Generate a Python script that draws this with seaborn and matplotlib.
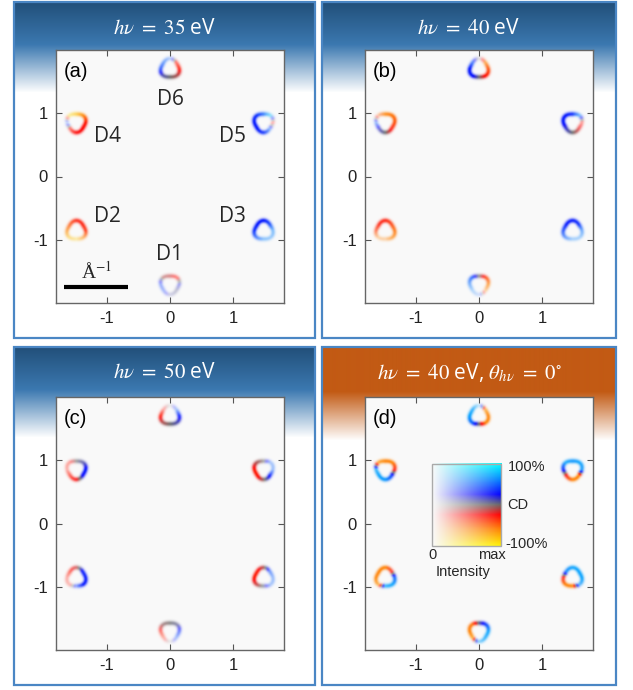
import numpy as np
import matplotlib
matplotlib.use("Agg")
import matplotlib.pyplot as plt
from matplotlib.colors import LinearSegmentedColormap, to_rgb
from matplotlib.patches import Rectangle
import seaborn as sns

sns.set_theme(style="ticks")
plt.rcParams["font.family"] = ["Liberation Sans", "DejaVu Sans"]
plt.rcParams["mathtext.fontset"] = "stix"
plt.rcParams["axes.unicode_minus"] = False

# pockets D1..D6 sit on a hexagon around Gamma
pocket_names = ["D1", "D2", "D3", "D4", "D5", "D6"]
pocket_angle = [270, 210, 330, 150, 30, 90]
# angles (deg) around each pocket where CD / intensity were read
ring_angles = [0, 45, 90, 135, 180, 225, 270, 315]

# hv = 35 eV
cd_a = [[0.2, -0.3, -0.15, -0.1, 0.4, 0.4, 0.1, 0.05],
        [-0.35, -0.3, -0.3, -0.45, -0.6, -0.8, -0.85, -0.6],
        [0.6, 0.4, 0.3, 0.3, 0.35, 0.45, 0.6, 0.6],
        [-0.3, -0.6, -0.8, -0.9, 0.5, -0.3, -0.25, -0.25],
        [-0.3, 0.8, 0.5, 0.35, 0.3, 0.3, 0.35, 0.5],
        [-0.3, -0.3, 0.5, 0.5, 0.4, 0.1, 0.0, -0.1]]
int_a = [[0.35, 0.45, 0.5, 0.45, 0.35, 0.3, 0.2, 0.3],
         [0.8, 0.85, 0.8, 0.7, 0.6, 0.4, 0.3, 0.5],
         [0.45, 0.8, 0.95, 0.95, 0.9, 0.6, 0.4, 0.35],
         [0.95, 0.85, 0.6, 0.35, 0.2, 0.5, 0.85, 0.95],
         [0.25, 0.4, 0.7, 0.9, 0.95, 0.95, 0.8, 0.4],
         [0.8, 0.5, 0.25, 0.5, 0.7, 0.8, 0.9, 0.85]]

# hv = 40 eV
cd_b = [[-0.6, -0.4, 0.0, 0.45, 0.55, 0.6, 0.5, -0.6],
        [-0.55, -0.4, -0.3, -0.3, -0.4, -0.6, -0.6, -0.6],
        [0.55, 0.35, 0.3, 0.3, 0.4, 0.5, 0.6, 0.6],
        [-0.45, -0.55, -0.6, -0.5, 0.5, 0.15, 0.0, -0.3],
        [-0.3, 0.6, 0.35, 0.3, 0.3, 0.15, 0.0, -0.2],
        [-0.45, -0.6, 0.0, 0.45, 0.3, 0.3, 0.0, -0.3]]
int_b = [[0.6, 0.75, 0.6, 0.7, 0.45, 0.25, 0.15, 0.3],
         [0.8, 0.8, 0.85, 0.8, 0.6, 0.3, 0.3, 0.6],
         [0.5, 0.85, 0.9, 0.9, 0.75, 0.5, 0.3, 0.3],
         [0.9, 0.9, 0.8, 0.3, 0.35, 0.6, 0.85, 0.8],
         [0.35, 0.5, 0.85, 0.95, 0.95, 0.85, 0.85, 0.6],
         [0.85, 0.6, 0.15, 0.6, 0.95, 0.95, 0.9, 0.95]]

# hv = 50 eV
cd_c = [[0.35, 0.05, 0.0, -0.05, -0.3, -0.35, 0.0, 0.45],
        [0.3, 0.3, -0.15, -0.3, -0.3, -0.3, 0.4, 0.3],
        [0.5, 0.45, -0.1, -0.3, -0.3, -0.15, 0.05, 0.5],
        [0.3, 0.1, 0.0, -0.3, -0.3, -0.3, -0.25, 0.25],
        [0.5, 0.5, 0.0, -0.1, -0.3, -0.3, -0.05, 0.3],
        [0.3, 0.5, 0.0, -0.3, -0.3, -0.1, 0.0, 0.1]]
int_c = [[0.5, 0.6, 0.7, 0.6, 0.5, 0.3, 0.1, 0.3],
         [0.9, 0.85, 0.6, 0.55, 0.3, 0.25, 0.4, 0.9],
         [0.35, 0.5, 0.75, 0.9, 0.95, 0.75, 0.5, 0.3],
         [0.95, 0.7, 0.55, 0.35, 0.3, 0.6, 0.8, 0.9],
         [0.35, 0.3, 0.5, 0.8, 0.95, 0.95, 0.8, 0.85],
         [0.8, 0.3, 0.1, 0.3, 0.8, 0.8, 0.9, 0.85]]

# hv = 40 eV, theta = 0
cd_d = [[0.7, 0.4, 0.05, -0.55, -0.6, -0.65, 0.7, 0.7],
        [0.5, -0.3, -0.6, -0.6, -0.6, -0.65, 0.7, 0.7],
        [0.7, 0.7, 0.7, 0.6, -0.3, -0.6, -0.6, 0.65],
        [-0.3, -0.6, -0.6, -0.65, 0.7, 0.7, 0.65, 0.4],
        [0.65, 0.7, 0.65, 0.7, 0.35, -0.3, -0.6, -0.6],
        [-0.6, -0.65, 0.7, 0.7, 0.7, 0.5, 0.0, -0.6]]
int_d = [[0.85, 0.85, 0.85, 0.85, 0.9, 0.7, 0.4, 0.7],
         [0.8, 0.7, 0.9, 0.9, 0.85, 0.6, 0.7, 0.85],
         [0.9, 0.9, 0.85, 0.8, 0.75, 0.9, 0.85, 0.6],
         [0.8, 0.9, 0.9, 0.7, 0.7, 0.9, 0.9, 0.85],
         [0.8, 0.85, 0.85, 0.8, 0.85, 0.8, 0.9, 0.9],
         [0.85, 0.6, 0.2, 0.7, 0.95, 0.9, 0.9, 0.9]]

titles = [r"$h\nu\ =\ 35$ eV", r"$h\nu\ =\ 40$ eV", r"$h\nu\ =\ 50$ eV",
          r"$h\nu\ =\ 40$ eV, $\theta_{h\nu}\ =\ 0^{\circ}$"]
panel_tags = ["(a)", "(b)", "(c)", "(d)"]
tick_vals = [-1, 0, 1]

# 2D colormap: CD along one axis, intensity blends towards white
cd_stops = [-1.0, -0.6, -0.25, 0.0, 0.25, 0.65, 1.0]
cd_colors = ["#fff200", "#ff8000", "#ff0000", "#666666", "#0000ff", "#0090ff", "#00ffff"]
cd_cmap = LinearSegmentedColormap.from_list(
    "cd", list(zip((np.array(cd_stops) + 1) / 2, cd_colors)))
BG = 0.98

POCKET_R = 1.71
RING_R = 0.145
TRI = 0.08
RING_W = 0.026


def shade(cd, inten):
    c = cd_cmap((np.clip(cd, -1, 1) + 1) / 2)[..., :3]
    i = np.clip(inten, 0, 1)[..., None]
    return BG * (1 - i) + c * i


def render(cd_rows, int_rows):
    xs = np.linspace(-1.8, 1.8, 540)
    ys = np.linspace(-2, 2, 600)
    X, Y = np.meshgrid(xs, ys)
    num = np.zeros_like(X)
    wsum = np.zeros_like(X)
    itot = np.zeros_like(X)
    for k in range(len(pocket_names)):
        a = np.deg2rad(pocket_angle[k])
        dx = X - POCKET_R * np.cos(a)
        dy = Y - POCKET_R * np.sin(a)
        r = np.hypot(dx, dy)
        phi = np.degrees(np.arctan2(dy, dx)) % 360
        R = RING_R * (1 + TRI * np.cos(np.deg2rad(3 * (phi - pocket_angle[k]))))
        w = np.exp(-0.5 * ((r - R) / RING_W) ** 2)
        num += w * np.interp(phi, ring_angles, cd_rows[k], period=360)
        itot += w * np.interp(phi, ring_angles, int_rows[k], period=360)
        wsum += w
    return shade(num / np.maximum(wsum, 1e-9), itot)


W, H = 633, 690
fig = plt.figure(figsize=(W / 100, H / 100), dpi=100)
fig.patch.set_facecolor("white")

bg = fig.add_axes([0, 0, 1, 1])
bg.set_xlim(0, W)
bg.set_ylim(H, 0)
bg.axis("off")

boxes = [(14, 2, 315, 338), (322, 2, 616, 338), (14, 347, 315, 685), (322, 347, 616, 685)]
axes_px = [(56, 50), (365, 50), (56, 397), (365, 397)]
header_blue = ([0, 42, 90], ["#22507a", "#3b78b0", "#ffffff"])
header_orange = ([0, 44, 93], ["#c25a14", "#c25a14", "#ffffff"])
headers = [header_blue, header_blue, header_blue, header_orange]
cd_sets = [cd_a, cd_b, cd_c, cd_d]
int_sets = [int_a, int_b, int_c, int_d]

for p in range(4):
    x0, y0, x1, y1 = boxes[p]
    stops, cols = headers[p]
    t = np.arange(0, 95)
    rgb = np.array([to_rgb(c) for c in cols])
    grad = np.stack([np.interp(t, stops, rgb[:, j]) for j in range(3)], axis=-1)[:, None, :]
    bg.imshow(grad, extent=(x0, x1, y0 + 95, y0), origin="upper", aspect="auto",
              interpolation="bilinear")
    bg.add_patch(Rectangle((x0, y0), x1 - x0, y1 - y0, fill=False,
                           edgecolor="#4a86c4", lw=1.6))
    bg.text((x0 + x1) / 2, y0 + 26, titles[p], color="white", ha="center", va="center",
            fontsize=15, family=["Open Sans", "DejaVu Sans"])
bg.set_xlim(0, W)
bg.set_ylim(H, 0)

for p in range(4):
    px, py = axes_px[p]
    ax = fig.add_axes([px / W, 1 - (py + 253) / H, 228 / W, 253 / H])
    ax.set_facecolor("#fafafa")
    ax.imshow(render(cd_sets[p], int_sets[p]), extent=(-1.8, 1.8, -2, 2), origin="lower",
              aspect="auto", interpolation="bilinear")
    ax.set_xlim(-1.8, 1.8)
    ax.set_ylim(-2, 2)
    ax.set_xticks(tick_vals)
    ax.set_yticks(tick_vals)
    ax.set_xticklabels([str(v) for v in tick_vals])
    ax.set_yticklabels([str(v) for v in tick_vals])
    ax.tick_params(direction="in", length=4, width=0.8, top=True, right=True,
                   labelsize=12, color="#555555", labelcolor="#222222", pad=6)
    for s in ax.spines.values():
        s.set_color("#666666")
        s.set_linewidth(1.0)
    ax.text(0.035, 0.915, panel_tags[p], transform=ax.transAxes, ha="left", va="center",
            fontsize=14.5, color="black")

    if p == 0:
        label_pos = [(0, -1.24), (-0.98, -0.63), (0.98, -0.63),
                     (-0.98, 0.63), (0.98, 0.63), (0, 1.22)]
        for name, (lx, ly) in zip(pocket_names, label_pos):
            ax.text(lx, ly, name, ha="center", va="center", fontsize=15,
                    family=["Open Sans", "DejaVu Sans"])
        ax.plot([-1.67, -0.67], [-1.75, -1.75], color="black", lw=3, solid_capstyle="butt")
        ax.text(-1.16, -1.5, "Å$^{-1}$", ha="center", va="center", fontsize=14,
                family=["Liberation Serif", "DejaVu Serif"])

    if p == 3:
        iv = np.linspace(0, 1, 80)
        cv = np.linspace(-1, 1, 120)
        I, C = np.meshgrid(iv, cv)
        ax.imshow(shade(C, I), extent=(-0.74, 0.35, -0.36, 0.94), origin="lower",
                  aspect="auto", interpolation="bilinear", zorder=3)
        ax.add_patch(Rectangle((-0.74, -0.36), 1.09, 1.30, fill=False,
                               edgecolor="#aaaaaa", lw=1, zorder=4))
        ax.text(0.46, 0.89, "100%", ha="left", va="center", fontsize=10.5)
        ax.text(0.44, 0.29, "CD", ha="left", va="center", fontsize=10.5)
        ax.text(0.42, -0.33, "-100%", ha="left", va="center", fontsize=10.5)
        ax.text(-0.73, -0.5, "0", ha="center", va="center", fontsize=10.5)
        ax.text(0.21, -0.5, "max", ha="center", va="center", fontsize=10.5)
        ax.text(-0.25, -0.77, "Intensity", ha="center", va="center", fontsize=10.5)

fig.savefig("out.png", dpi=100)
